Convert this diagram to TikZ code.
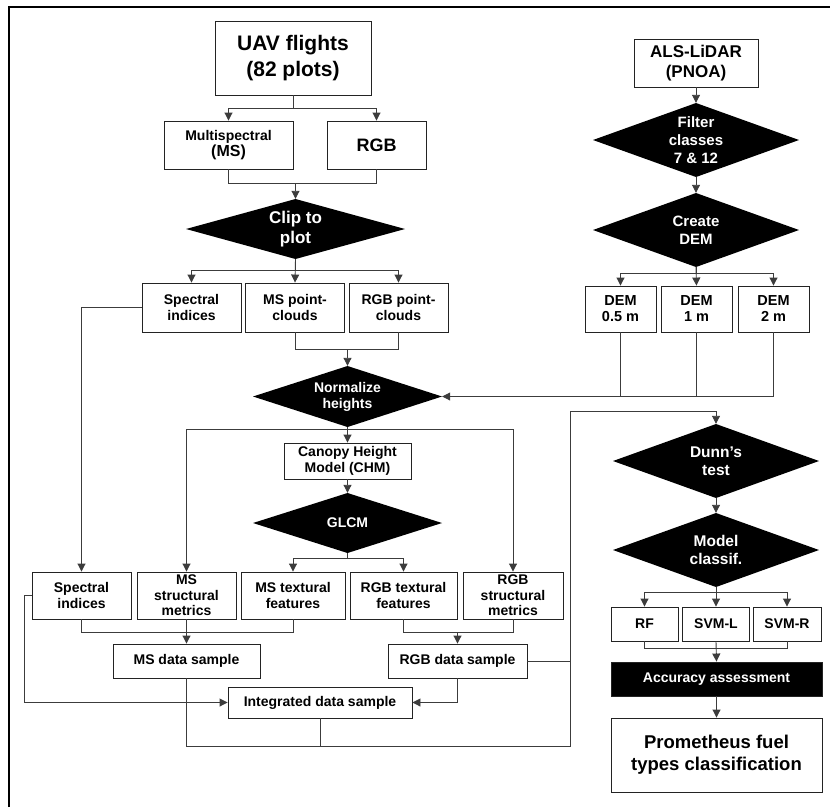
\documentclass[tikz,border=0pt]{standalone}
\usepackage{fontspec}
\setmainfont{Liberation Sans}
\usetikzlibrary{arrows.meta}
\definecolor{linegray}{RGB}{60,60,60}
\definecolor{boxgray}{RGB}{35,35,35}

\begin{document}
\begin{tikzpicture}[x=1pt, y=-1pt,
    box/.style={draw=boxgray, line width=0.9pt, fill=white, align=center, inner sep=1pt,
                font=\bfseries\fontsize{14}{15.5}\selectfont},
    darkbox/.style={box, fill=black, text=white},
    decision/.style={rectangle, inner sep=0pt, align=center, text=white,
                font=\bfseries\fontsize{15}{18}\selectfont,
                path picture={\fill[black] (path picture bounding box.north) -- (path picture bounding box.east)
                  -- (path picture bounding box.south) -- (path picture bounding box.west) -- cycle;}},
    line/.style={draw=linegray, line width=0.9pt},
    arr/.style={line, -{Triangle[length=8pt,width=8pt]}}]
    \useasboundingbox (0,0) rectangle (830,807);
    \draw[line width=1.8pt] (9,807) -- (9,7) -- (830,7);

    % UAV branch
    \node[box, minimum width=156, minimum height=74, font=\bfseries\fontsize{21}{26}\selectfont] (uav) at (293,58) {UAV flights\\(82 plots)};
    \node[box, minimum width=129, minimum height=48] (ms) at (228.5,145) {Multispectral\\{\fontsize{16}{17}\selectfont(MS)}};
    \node[box, minimum width=99, minimum height=48, font=\bfseries\fontsize{18}{20}\selectfont] (rgb) at (376.5,145) {RGB};
    \node[decision, minimum width=219, minimum height=60, font=\bfseries\fontsize{17}{20}\selectfont] (clip) at (295.5,229) {Clip to\\plot};
    \node[box, minimum width=99, minimum height=49] (spec1) at (191.5,307.5) {Spectral\\indices};
    \node[box, minimum width=99, minimum height=49] (mspc) at (295,307.5) {MS point-\\clouds};
    \node[box, minimum width=99, minimum height=49] (rgbpc) at (398.5,307.5) {RGB point-\\clouds};
    \node[decision, minimum width=189, minimum height=61, font=\bfseries\fontsize{14}{16}\selectfont] (norm) at (347.5,396.5) {Normalize\\heights};
    \node[box, minimum width=127, minimum height=36] (chm) at (347.5,461) {Canopy Height\\Model (CHM)};
    \node[decision, minimum width=189, minimum height=60, font=\bfseries\fontsize{14}{16}\selectfont] (glcm) at (347.5,523) {GLCM};
    \node[box, minimum width=99, minimum height=47] (spec2) at (81.5,595.5) {Spectral\\indices};
    \node[box, minimum width=99, minimum height=47] (msstr) at (186.5,595.5) {MS\\structural\\metrics};
    \node[box, minimum width=104, minimum height=47] (mstex) at (293,595.5) {MS textural\\features};
    \node[box, minimum width=107, minimum height=47] (rgbtex) at (403.5,595.5) {RGB textural\\features};
    \node[box, minimum width=100, minimum height=47] (rgbstr) at (513,595.5) {RGB\\structural\\metrics};
    \node[box, minimum width=147, minimum height=34] (msdata) at (186.5,661) {MS data sample};
    \node[box, minimum width=139, minimum height=34] (rgbdata) at (457.5,661) {RGB data sample};
    \node[box, minimum width=184, minimum height=31] (integ) at (320,702.5) {Integrated data sample};

    % LiDAR branch
    \node[box, minimum width=124, minimum height=48, font=\bfseries\fontsize{17}{20}\selectfont] (als) at (696,63) {ALS-LiDAR\\(PNOA)};
    \node[decision, minimum width=206, minimum height=74] (filter) at (696,140) {Filter\\classes\\7 \& 12};
    \node[decision, minimum width=206, minimum height=74] (create) at (696,230) {Create\\DEM};
    \node[box, minimum width=71, minimum height=46, font=\bfseries\fontsize{14.5}{16}\selectfont] (dem05) at (620.5,309) {DEM\\0.5 m};
    \node[box, minimum width=71, minimum height=46, font=\bfseries\fontsize{14.5}{16}\selectfont] (dem1) at (696.5,309) {DEM\\1 m};
    \node[box, minimum width=71, minimum height=46, font=\bfseries\fontsize{14.5}{16}\selectfont] (dem2) at (773.5,309) {DEM\\2 m};

    % classification
    \node[decision, minimum width=206, minimum height=74, font=\bfseries\fontsize{15.5}{18}\selectfont] (dunn) at (716,461) {Dunn's\\test};
    \node[decision, minimum width=206, minimum height=74, font=\bfseries\fontsize{15.5}{18}\selectfont] (model) at (716,550) {Model\\classif.};
    \node[box, minimum width=67, minimum height=34] (rf) at (644.5,624) {RF};
    \node[box, minimum width=67, minimum height=34] (svml) at (716,624) {SVM-L};
    \node[box, minimum width=68, minimum height=34] (svmr) at (787,624) {SVM-R};
    \node[darkbox, minimum width=211, minimum height=34] (acc) at (716.5,679) {Accuracy assessment};
    \node[box, minimum width=211, minimum height=74, font=\bfseries\fontsize{18.5}{22}\selectfont] (prom) at (716.5,755) {Prometheus fuel\\types classification};

    % junction levels
    \coordinate (b1) at (0,108);
    \coordinate (b2) at (0,183);
    \coordinate (b3) at (0,270);
    \coordinate (b4) at (0,349);
    \coordinate (b6) at (0,429);
    \coordinate (b7) at (0,558);
    \coordinate (b8) at (0,632);
    \coordinate (b9) at (24,0);
    \coordinate (b10) at (570,746);
    \coordinate (b11) at (0,411);
    \coordinate (b12) at (0,592);
    \coordinate (b13) at (0,648);
    \coordinate (b14) at (0,273);

    \draw[arr] (uav.south) |- (ms.north |- b1) -- (ms.north);
    \draw[arr] (uav.south) |- (rgb.north |- b1) -- (rgb.north);
    \draw[line] (ms.south) |- (rgb.south |- b2) -- (rgb.south);
    \draw[arr] (clip.north |- b2) -- (clip.north);
    \draw[arr] (clip.south) |- (spec1.north |- b3) -- (spec1.north);
    \draw[arr] (clip.south) -- (mspc.north);
    \draw[arr] (clip.south) |- (rgbpc.north |- b3) -- (rgbpc.north);
    \draw[arr] (spec1.west) -| (spec2.north);
    \draw[line] (mspc.south) |- (rgbpc.south |- b4) -- (rgbpc.south);
    \draw[arr] (norm.north |- b4) -- (norm.north);
    \draw[arr] (norm.south) -- (chm.north);
    \draw[arr] (norm.south) |- (msstr.north |- b6) -- (msstr.north);
    \draw[arr] (norm.south) |- (rgbstr.north |- b6) -- (rgbstr.north);
    \draw[arr] (chm.south) -- (glcm.north);
    \draw[arr] (glcm.south) |- (mstex.north |- b7) -- (mstex.north);
    \draw[arr] (glcm.south) |- (rgbtex.north |- b7) -- (rgbtex.north);
    \draw[line] (spec2.south) |- (mstex.south |- b8) -- (mstex.south);
    \draw[arr] (msstr.south) -- (msdata.north);
    \draw[line] (rgbtex.south) |- (rgbstr.south |- b8) -- (rgbstr.south);
    \draw[arr] (rgbdata.north |- b8) -- (rgbdata.north);
    \draw[arr] (spec2.west) -- (spec2.west -| b9) |- (integ.west);
    \draw[arr] (rgbdata.south) |- (integ.east);
    \draw[line] (integ.south) -- (integ.south |- b10);
    \draw[line] (rgbdata.east) -- (rgbdata.east -| b10);
    \draw[arr] (msdata.south) |- (b10) |- (dunn.north |- b11) -- (dunn.north);

    \draw[arr] (als.south) -- (filter.north);
    \draw[arr] (filter.south) -- (create.north);
    \draw[arr] (create.south) |- (dem05.north |- b14) -- (dem05.north);
    \draw[arr] (create.south) -- (dem1.north);
    \draw[arr] (create.south) |- (dem2.north |- b14) -- (dem2.north);
    \draw[line] (dem05.south) -- (dem05.south |- norm.east);
    \draw[line] (dem1.south) -- (dem1.south |- norm.east);
    \draw[arr] (dem2.south) |- (norm.east);

    \draw[arr] (dunn.south) -- (model.north);
    \draw[arr] (model.south) |- (rf.north |- b12) -- (rf.north);
    \draw[arr] (model.south) -- (svml.north);
    \draw[arr] (model.south) |- (svmr.north |- b12) -- (svmr.north);
    \draw[line] (rf.south) |- (svmr.south |- b13) -- (svmr.south);
    \draw[arr] (svml.south) -- (acc.north);
    \draw[arr] (acc.south) -- (prom.north);
\end{tikzpicture}
\end{document}
